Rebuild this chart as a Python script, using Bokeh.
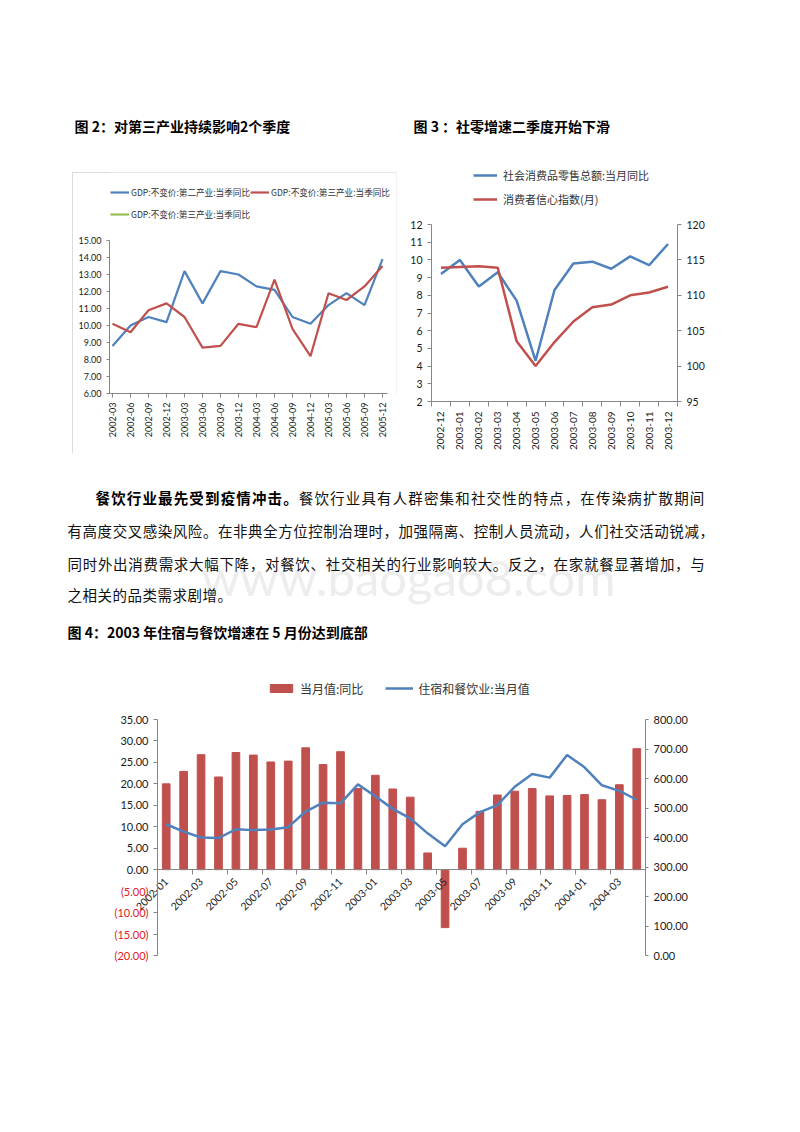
import math
import numpy as np
from bokeh.plotting import figure
from bokeh.models import (Range1d, LinearAxis, FixedTicker, Legend, LegendItem,
                          Spacer, NumeralTickFormatter)
from bokeh.layouts import column, row
from bokeh.embed import file_html
from bokeh.resources import INLINE
from bokeh.core.properties import value

# ---------------- data ----------------
q_labels = ["2002-03", "2002-06", "2002-09", "2002-12", "2003-03", "2003-06", "2003-09", "2003-12",
            "2004-03", "2004-06", "2004-09", "2004-12", "2005-03", "2005-06", "2005-09", "2005-12"]
gdp_secondary = [8.8, 10.0, 10.5, 10.2, 13.2, 11.3, 13.2, 13.0, 12.3, 12.1, 10.5, 10.1, 11.2, 11.9, 11.2, 13.9]
gdp_tertiary = [10.1, 9.6, 10.9, 11.3, 10.5, 8.7, 8.8, 10.1, 9.9, 12.7, 9.8, 8.2, 11.9, 11.5, 12.3, 13.5]
gdp_tertiary_2 = np.full(len(q_labels), np.nan)  # legend-only series: no values shown in the chart

m_labels = ["2002-12", "2003-01", "2003-02", "2003-03", "2003-04", "2003-05", "2003-06",
            "2003-07", "2003-08", "2003-09", "2003-10", "2003-11", "2003-12"]
retail_yoy = [9.2, 10.0, 8.5, 9.3, 7.7, 4.3, 8.3, 9.8, 9.9, 9.5, 10.2, 9.7, 10.9]
confidence = [113.9, 114.0, 114.1, 113.9, 103.5, 100.0, 103.4, 106.3, 108.3, 108.7, 110.0, 110.4, 111.2]

h_labels = ["2002-01", "2002-02", "2002-03", "2002-04", "2002-05", "2002-06", "2002-07", "2002-08",
            "2002-09", "2002-10", "2002-11", "2002-12", "2003-01", "2003-02", "2003-03", "2003-04",
            "2003-05", "2003-06", "2003-07", "2003-08", "2003-09", "2003-10", "2003-11", "2003-12",
            "2004-01", "2004-02", "2004-03", "2004-04"]
hosp_yoy = [20.0, 22.9, 26.8, 21.6, 27.3, 26.7, 25.1, 25.3, 28.4, 24.5, 27.5, 18.9, 22.0, 18.8,
            16.9, 3.9, -13.5, 5.0, 13.6, 17.4, 18.3, 18.9, 17.2, 17.3, 17.5, 16.3, 19.8, 28.2]
hosp_value = [445, 420, 400, 398, 428, 425, 427, 435, 488, 518, 516, 580, 540, 497, 465, 414,
              370, 445, 486, 510, 572, 615, 603, 680, 638, 577, 558, 528]

BLUE = "#4F81BD"
RED = "#C0504D"
GREEN = "#9BBB59"
AXC = "#868686"
TXT = "#1a1a1a"
CJK = "Noto Sans CJK SC"
NUM = "Lato"


def blank(w, h, x0, x1, y0, y1):
    p = figure(width=w, height=h, x_range=Range1d(x0, x1), y_range=Range1d(y0, y1),
               output_backend="svg", toolbar_location=None, min_border=0,
               x_axis_location=None, y_axis_location=None)
    p.grid.visible = False
    p.outline_line_color = None
    return p


def style_axis(ax, size):
    ax.axis_line_color = AXC
    ax.major_tick_line_color = AXC
    ax.minor_tick_line_color = AXC
    ax.major_label_text_font = NUM
    ax.major_label_text_font_size = size
    ax.major_label_text_color = TXT


def style_legend(leg, size):
    leg.label_text_font = CJK
    leg.label_text_font_size = size
    leg.label_text_color = "#333333"
    leg.border_line_color = None
    leg.background_fill_alpha = 0
    leg.padding = 0
    leg.margin = 0


# ---------------- header (page y 0..160) ----------------
hdr = blank(800, 160, 0, 800, 160, 0)
hdr.text(x=[74, 413], y=[125, 125],
         text=["图 2：对第三产业持续影响2个季度", "图 3 ：社零增速二季度开始下滑"],
         text_font=value(CJK), text_font_size="14px", text_font_style="bold",
         text_baseline="middle", text_color="#000000")

# ---------------- chart 1 (page x 72..397, y 172..453) ----------------
n1 = len(q_labels)
x1 = list(range(n1))
pitch1 = 18.0
p1 = figure(width=325, height=281,
            x_range=Range1d(-3.0 / pitch1, n1 - 1 + 14.0 / pitch1),
            y_range=Range1d(6, 15 + 68.0 / 17.0),
            output_backend="svg", toolbar_location=None,
            min_border_left=37, min_border_right=1, min_border_top=0, min_border_bottom=60)
p1.grid.visible = False
p1.outline_line_color = None
p1.xaxis.ticker = FixedTicker(ticks=x1)
p1.xaxis.major_label_overrides = {i: s for i, s in enumerate(q_labels)}
p1.xaxis.major_label_orientation = math.pi / 2
p1.xaxis.major_tick_out = 4
p1.xaxis.major_tick_in = 0
p1.xaxis.bounds = (-3.0 / pitch1, n1 - 1 + 4.7 / pitch1)
p1.yaxis.ticker = FixedTicker(ticks=list(range(6, 16)))
p1.yaxis.formatter = NumeralTickFormatter(format="0.00")
p1.yaxis.major_tick_out = 3
p1.yaxis.major_tick_in = 0
p1.yaxis.bounds = (6, 15)
style_axis(p1.xaxis[0], "9px")
style_axis(p1.yaxis[0], "9px")
r1a = p1.line(x1, gdp_secondary, line_color=BLUE, line_width=2.2)
r1b = p1.line(x1, gdp_tertiary, line_color=RED, line_width=2.2)
r1c = p1.line(x1, gdp_tertiary_2, line_color=GREEN, line_width=2.2)
leg1a = Legend(items=[LegendItem(label="GDP:不变价:第二产业:当季同比", renderers=[r1a]),
                      LegendItem(label="GDP:不变价:第三产业:当季同比", renderers=[r1b])],
               orientation="horizontal", location=(1, 193), glyph_width=19, glyph_height=10,
               label_height=16, label_standoff=2, spacing=0)
leg1b = Legend(items=[LegendItem(label="GDP:不变价:第三产业:当季同比", renderers=[r1c])],
               orientation="horizontal", location=(1, 171), glyph_width=19, glyph_height=10,
               label_height=16, label_standoff=2, spacing=0)
for lg in (leg1a, leg1b):
    style_legend(lg, "8.6px")
    p1.add_layout(lg)
p1.styles = {"outline": "1px solid #cfcfcf", "outline-offset": "-1px"}

# ---------------- chart 2 (page x 397..800, y 160..465) ----------------
n2 = len(m_labels)
x2 = list(range(n2))
k2 = 177.0 / 10.0
k2r = 177.0 / 25.0
p2 = figure(width=403, height=305, x_range=Range1d(-0.5, n2 - 0.5),
            y_range=Range1d(2, 12 + 62.0 / k2),
            output_backend="svg", toolbar_location=None,
            min_border_left=34, min_border_right=123, min_border_top=2, min_border_bottom=64)
p2.grid.visible = False
p2.outline_line_color = None
p2.extra_y_ranges = {"right": Range1d(95, 120 + 62.0 / k2r)}
p2.xaxis.ticker = FixedTicker(ticks=x2, minor_ticks=[i - 0.5 for i in range(n2 + 1)])
p2.xaxis.major_label_overrides = {i: s for i, s in enumerate(m_labels)}
p2.xaxis.major_label_orientation = math.pi / 2
p2.xaxis.major_tick_out = 0
p2.xaxis.major_tick_in = 0
p2.xaxis.minor_tick_out = 5
p2.xaxis.minor_tick_in = 0
p2.yaxis.ticker = FixedTicker(ticks=list(range(2, 13)))
p2.yaxis.major_tick_out = 4
p2.yaxis.major_tick_in = 0
p2.yaxis.bounds = (2, 12)
style_axis(p2.xaxis[0], "10px")
style_axis(p2.yaxis[0], "10.5px")
ax2r = LinearAxis(y_range_name="right", ticker=FixedTicker(ticks=[95, 100, 105, 110, 115, 120]),
                  bounds=(95, 120))
ax2r.major_tick_out = 4
ax2r.major_tick_in = 0
style_axis(ax2r, "10.5px")
p2.add_layout(ax2r, "right")
r2a = p2.line(x2, retail_yoy, line_color=BLUE, line_width=2.5)
r2b = p2.line(x2, confidence, y_range_name="right", line_color=RED, line_width=2.5)
leg2 = Legend(items=[LegendItem(label="社会消费品零售总额:当月同比", renderers=[r2a]),
                     LegendItem(label="消费者信心指数(月)", renderers=[r2b])],
              orientation="vertical", location=(42, 192), glyph_width=24, glyph_height=10,
              label_height=20, label_standoff=6, spacing=4)
style_legend(leg2, "11px")
p2.add_layout(leg2)

# ---------------- text block (page y 465..660) ----------------
txt = blank(800, 195, 0, 800, 660, 465)
txt.text(x=[408], y=[576], text=["www.baogao8.com"], text_font=value(NUM), text_font_size="49px",
         text_align="center", text_baseline="alphabetic", text_color="#ededed")

para = [
    ("餐饮行业最先受到疫情冲击。餐饮行业具有人群密集和社交性的特点，在传染病扩散期间", 95, 705, 497, 13),
    ("有高度交叉感染风险。在非典全方位控制治理时，加强隔离、控制人员流动，人们社交活动锐减，", 67, 714, 530, 0),
    ("同时外出消费需求大幅下降，对餐饮、社交相关的行业影响较大。反之，在家就餐显著增加，与", 67, 705, 563, 0),
    ("之相关的品类需求剧增。", 67, 67 + 11 * 15, 594, 0),
]
for s, xa, xb, yy, nb in para:
    pitch = (xb - xa) / len(s)
    xs = [xa + i * pitch for i in range(len(s))]
    if nb:
        txt.text(x=xs[:nb], y=[yy] * nb, text=list(s[:nb]), text_font=value(CJK),
                 text_font_size="14.5px", text_font_style="bold", text_baseline="middle",
                 text_color="#000000")
    rest = s[nb:]
    txt.text(x=xs[nb:], y=[yy] * len(rest), text=list(rest), text_font=value(CJK),
             text_font_size="14.5px", text_baseline="middle", text_color="#111111")
txt.text(x=[67], y=[631], text=["图 4：2003 年住宿与餐饮增速在 5 月份达到底部"],
         text_font=value(CJK), text_font_size="14px", text_font_style="bold",
         text_baseline="middle", text_color="#000000")

# ---------------- chart 3 (page y 660..1020) ----------------
n3 = len(h_labels)
x3 = list(range(n3))
pitch3 = 488.0 / n3
k3 = 236.0 / 55.0
k3r = 236.0 / 800.0
p3 = figure(width=800, height=360,
            x_range=Range1d(-0.5 - 57.0 / pitch3, n3 - 0.5),
            y_range=Range1d(-20 - 10.0 / k3, 35 + 47.0 / k3),
            output_backend="svg", toolbar_location=None,
            min_border_left=100, min_border_right=155, min_border_top=12, min_border_bottom=55)
p3.grid.visible = False
p3.outline_line_color = None
p3.extra_y_ranges = {"right": Range1d(-10.0 / k3r, 800 + 47.0 / k3r)}
p3.xaxis.fixed_location = 0
p3.xaxis.bounds = (-0.5, n3 - 0.5)
p3.xaxis.ticker = FixedTicker(ticks=x3[::2], minor_ticks=[i + 1.5 for i in range(0, n3 - 2, 2)])
p3.xaxis.major_label_overrides = {i: h_labels[i] for i in x3[::2]}
p3.xaxis.major_label_orientation = math.pi / 4
p3.xaxis.major_tick_out = 0
p3.xaxis.major_tick_in = 0
p3.xaxis.minor_tick_out = 5
p3.xaxis.minor_tick_in = 0
style_axis(p3.xaxis[0], "10.5px")
neg_ticks = [-20, -15, -10, -5]
p3.yaxis.fixed_location = -0.5
p3.yaxis.bounds = (-20, 35)
p3.yaxis.ticker = FixedTicker(ticks=neg_ticks + [0, 5, 10, 15, 20, 25, 30, 35])
p3.yaxis.formatter = NumeralTickFormatter(format="0.00")
p3.yaxis.major_label_overrides = {t: "" for t in neg_ticks}
p3.yaxis.major_tick_out = 4
p3.yaxis.major_tick_in = 0
style_axis(p3.yaxis[0], "11px")
ax3n = LinearAxis(ticker=FixedTicker(ticks=neg_ticks),
                  major_label_overrides={t: "(%.2f)" % abs(t) for t in neg_ticks})
ax3n.fixed_location = -0.5
ax3n.major_tick_out = 4
ax3n.major_tick_in = 0
style_axis(ax3n, "11px")
ax3n.axis_line_color = None
ax3n.major_tick_line_color = None
ax3n.major_label_text_color = "#E02020"
p3.add_layout(ax3n, "left")
ax3r = LinearAxis(y_range_name="right", ticker=FixedTicker(ticks=list(range(0, 801, 100))),
                  formatter=NumeralTickFormatter(format="0.00"), bounds=(0, 800))
ax3r.major_tick_out = 3
ax3r.major_tick_in = 0
style_axis(ax3r, "11px")
p3.add_layout(ax3r, "right")
r3a = p3.vbar(x=x3, top=hosp_yoy, bottom=0, width=0.44, fill_color=RED, line_color=RED)
r3b = p3.line(x3, hosp_value, y_range_name="right", line_color=BLUE, line_width=2.5)
leg3 = Legend(items=[LegendItem(label="当月值:同比", renderers=[r3a]),
                     LegendItem(label="住宿和餐饮业:当月值", renderers=[r3b])],
              orientation="horizontal", location=(167, 267), glyph_width=28, glyph_height=10,
              label_height=20, label_standoff=5, spacing=22)
style_legend(leg3, "12px")
p3.add_layout(leg3)

layout = column(
    hdr,
    row(Spacer(width=72, height=305), column(Spacer(width=325, height=12), p1), p2),
    txt,
    row(p3),
)

open("out.html", "w").write(file_html(layout, INLINE))
